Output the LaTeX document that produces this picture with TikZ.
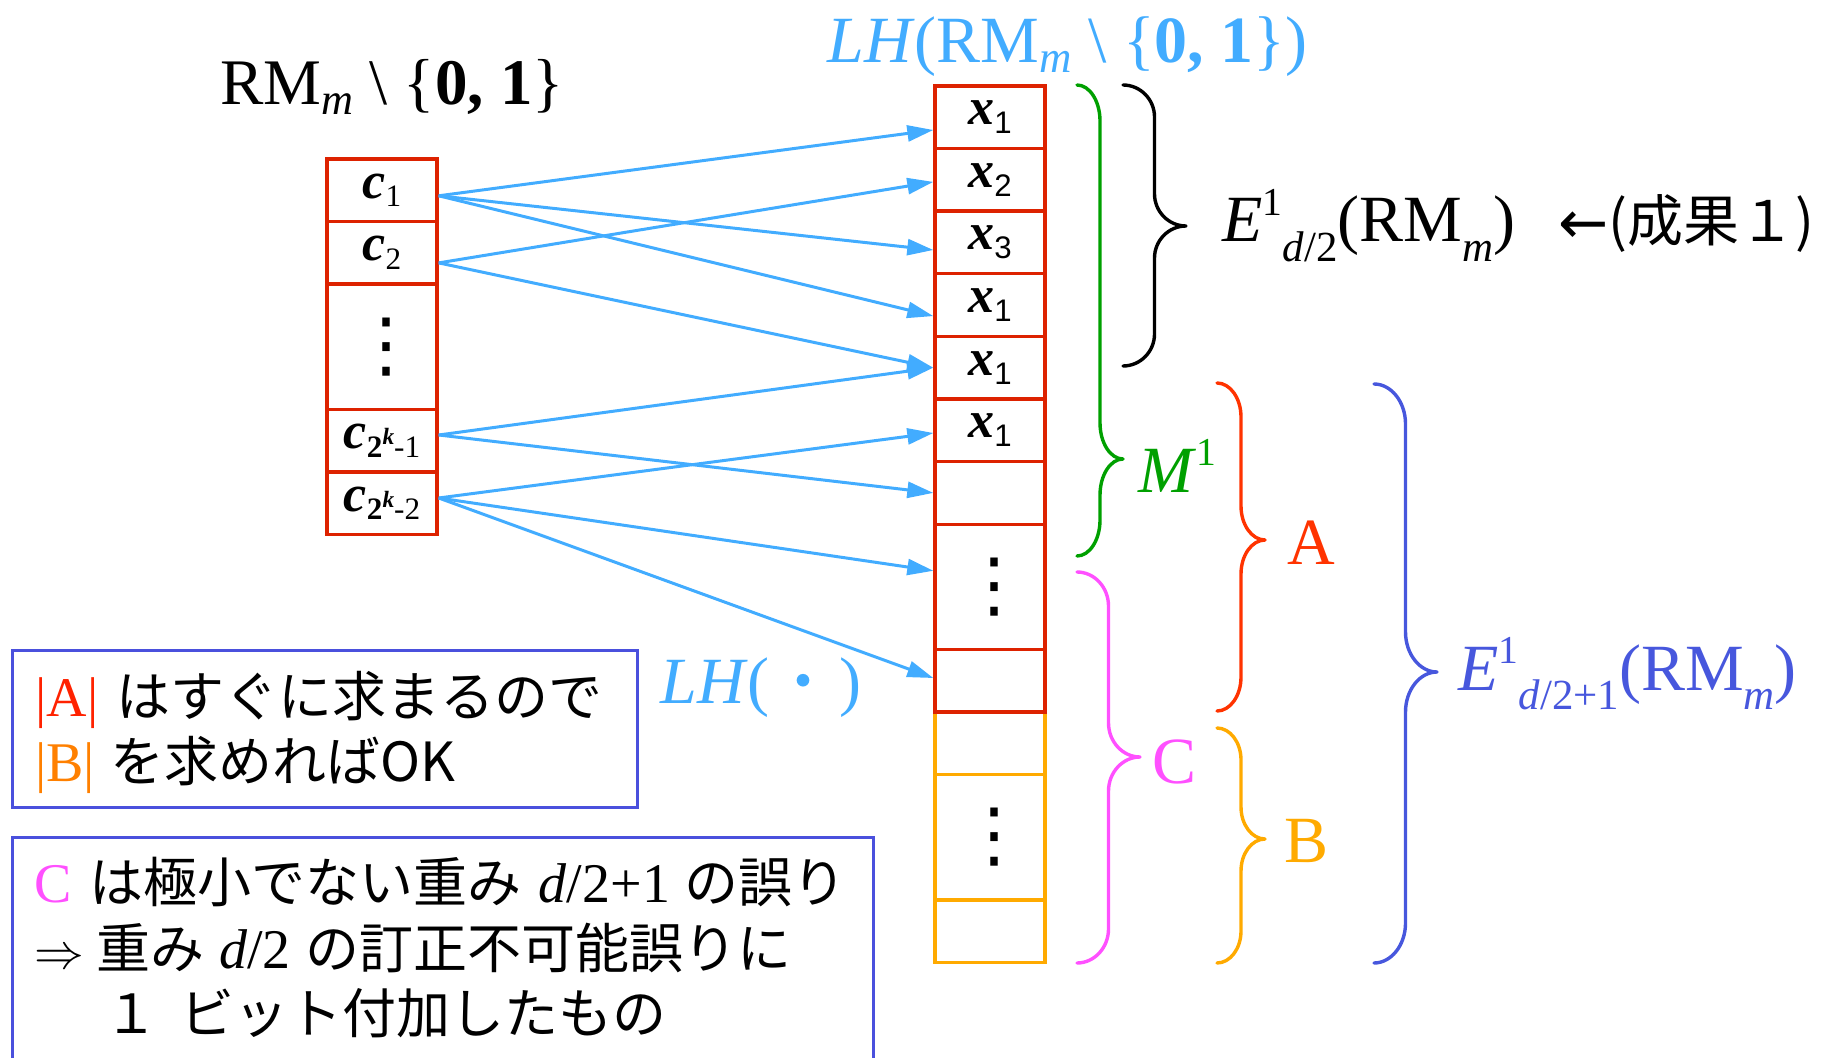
\documentclass[tikz,border=0pt]{standalone}
\usepackage{amsmath}
\usepackage{fontspec}
\setmainfont{Liberation Serif}
\setsansfont{Liberation Sans}
\newfontfamily\cjk{Noto Sans CJK JP}
\newfontfamily\djv{DejaVu Sans}
\usetikzlibrary{arrows.meta,calc}
\definecolor{lblue}{HTML}{42ACFF}
\definecolor{cellred}{HTML}{DD2200}
\definecolor{cellorange}{HTML}{FFAA00}
\definecolor{grn}{HTML}{00A000}
\definecolor{bred}{HTML}{FF3300}
\definecolor{mag}{HTML}{FF50FF}
\definecolor{borg}{HTML}{FFAA00}
\definecolor{pblue}{HTML}{4757DD}
\definecolor{ared}{HTML}{FF2200}
\definecolor{aorg}{HTML}{FF8000}
\definecolor{boxblue}{HTML}{4A50DD}
\makeatletter
\newcommand\shft[3]{\raisebox{#1}{\fontsize{\fpeval{#2*\f@size}}{\fpeval{#2*\f@size}}\selectfont #3}}
\makeatother
\newcommand\dn[1]{\shft{-0.14em}{0.68}{#1}}
\newcommand\dnn[1]{\shft{-0.3em}{0.65}{#1}}
\newcommand\upp[1]{\shft{0.4em}{0.6}{#1}}
\newcommand\cs[1]{\shft{-0.17em}{0.6}{#1}}
\newcommand\ks[1]{\shft{0.4em}{0.75}{#1}}
\newcommand\jp[1]{{\cjk\fontsize{27}{32}\selectfont #1}}
\newcommand\brc[7]{%
 \pgfmathsetmacro\bxs{(#2+#3)/2}%
 \pgfmathsetmacro\bwd{(#3-#2)/2}%
 \draw[bracesty,#1] (#2,#4) .. controls ({#2+0.55*\bwd},#4) and (\bxs,{#4+0.45*#7}) .. (\bxs,{#4+#7})
   -- (\bxs,{#5-#7}) .. controls (\bxs,{#5-0.45*#7}) and ({#3-0.55*\bwd},#5) .. (#3,#5)
   .. controls ({#3-0.55*\bwd},#5) and (\bxs,{#5+0.45*#7}) .. (\bxs,{#5+#7})
   -- (\bxs,{#6-#7}) .. controls (\bxs,{#6-0.45*#7}) and ({#2+0.55*\bwd},#6) .. (#2,#6);
}
\begin{document}
\begin{tikzpicture}[x=0.5pt,y=-0.5pt,
  cell/.style={draw=cellred, line width=1.7pt, minimum width=55pt, minimum height=31.3pt, inner sep=0pt, font=\fontsize{26}{30}\selectfont},
  dcell/.style={cell, minimum height=62.6pt},
  ocell/.style={cell, draw=cellorange},
  odcell/.style={dcell, draw=cellorange},
  arr/.style={draw=lblue, line width=1.5pt, -{Triangle[length=13pt,width=8pt]}},
  bracesty/.style={line width=1.7pt, line join=round, line cap=round},
  lbl/.style={anchor=base west, inner sep=0pt, font=\fontsize{33}{38}\selectfont},
  ttl/.style={anchor=base west, inner sep=0pt, font=\fontsize{33}{38}\selectfont},
  btxt/.style={anchor=base west, inner sep=0pt, font=\fontsize{28}{32}\selectfont},
  boxsty/.style={draw=boxblue, line width=1.5pt, inner sep=0pt},
  dots/.style={font=\djv\fontsize{36}{36}\selectfont}
]
\useasboundingbox (0,0) rectangle (1834,1058);
\clip (0,0) rectangle (1834,1058);

% titles
\node[ttl, font=\fontsize{32.5}{38}\selectfont] (title) at (220,105) {RM\dn{\textit{m}} \textbackslash\ \{\textbf{0, 1}\}};
\node[ttl, text=lblue] (lhtop) at (827,63) {\textit{LH}(RM\dn{\textit{m}} \textbackslash\ \{\textbf{0, 1}\})};
\node[ttl, text=lblue] (lhdot) at (660,703) {\textit{LH}(\hspace{2pt}{\cjk\fontsize{30}{34}\selectfont ・}\hspace{3pt})};

% left column
\node[cell] (c1) at (382,190.3) {\textbf{\textit{c}}\cs{1}};
\node[cell] (c2) at (382,252.9) {\textbf{\textit{c}}\cs{2}};
\node[dcell] (cd) at (382,346.8) {};
\node[dots] (cdd) at (386,346.8) {⋮};
\node[cell] (c3) at (382,440.7) {\textbf{\textit{c}}\cs{\textbf{2}\ks{\textbf{\textit{k}}}-1}};
\node[cell] (c4) at (382,503.3) {\textbf{\textit{c}}\cs{\textbf{2}\ks{\textbf{\textit{k}}}-2}};

% right column (orange part first)
\node[ocell] (o1) at (990,743.3) {};
\node[odcell] (o2) at (990,837.2) {};
\node[dots] (o2d) at (994,837.2) {⋮};
\node[ocell] (o3) at (990,931.1) {};
\node[cell] (r1) at (990,117.3) {\textbf{\textit{x}}\cs{\sffamily 1}};
\node[cell] (r2) at (990,179.9) {\textbf{\textit{x}}\cs{\sffamily 2}};
\node[cell] (r3) at (990,242.5) {\textbf{\textit{x}}\cs{\sffamily 3}};
\node[cell] (r4) at (990,305.1) {\textbf{\textit{x}}\cs{\sffamily 1}};
\node[cell] (r5) at (990,367.7) {\textbf{\textit{x}}\cs{\sffamily 1}};
\node[cell] (r6) at (990,430.3) {\textbf{\textit{x}}\cs{\sffamily 1}};
\node[cell] (r7) at (990,492.9) {};
\node[dcell] (r8) at (990,586.8) {};
\node[dots] (r8d) at (994,586.8) {⋮};
\node[cell] (r9) at (990,680.7) {};

% arrows
\draw[arr] ($(c1.east)+(0,5.5)$) -- ($(r1.west)+(0,12.7)$);
\draw[arr] ($(c2.east)+(0,10)$) -- ($(r2.west)+(0,2)$);
\draw[arr] ($(c1.east)+(0,5.5)$) -- ($(r3.west)+(0,7.5)$);
\draw[arr] ($(c1.east)+(0,5.5)$) -- ($(r4.west)+(0,11)$);
\draw[arr] ($(c2.east)+(0,10)$) -- (r5.west);
\draw[arr] ($(c3.east)+(0,-5.7)$) -- (r5.west);
\draw[arr] ($(c4.east)+(0,-5.3)$) -- ($(r6.west)+(0,2.7)$);
\draw[arr] ($(c3.east)+(0,-5.7)$) -- (r7.west);
\draw[arr] ($(c4.east)+(0,-5.3)$) -- ($(r8.west)+(0,-16)$);
\draw[arr] ($(c4.east)+(0,-5.3)$) -- ($(r9.west)+(0,-2.7)$);

% braces
\brc{grn}{1077}{1123}{85}{459}{556}{36}
\brc{black}{1123}{1186}{85}{226}{366}{32}
\brc{bred}{1217}{1265}{383}{540}{711}{34}
\brc{mag}{1077}{1140}{572}{757}{963}{34}
\brc{borg}{1217}{1265}{728}{839}{963}{32}
\brc{pblue}{1374}{1437}{384}{672}{963}{40}

% brace labels
\node[lbl] (e1) at (1222,242) {\textit{E}\upp{1}\dnn{\textit{d}/2}(RM\dnn{\textit{m}})};
\node[lbl] (res1) at (1558,242) {\raisebox{-1pt}{\djv\fontsize{30}{30}\selectfont ←}{\cjk\fontsize{28}{34}\selectfont (成果１)}};
\node[lbl, text=grn] (m1) at (1138,492) {\textit{M}\upp{1}};
\node[lbl, text=bred] (la) at (1287,564) {A};
\node[lbl, text=mag] (lc) at (1152,783) {C};
\node[lbl, text=borg] (lb) at (1284,862) {B};
\node[lbl, text=pblue] (e2) at (1458,690) {\textit{E}\upp{1}\dnn{\textit{d}/2+1}(RM\dnn{\textit{m}})};

% boxes
\node[boxsty, minimum width=312.5pt, minimum height=78.5pt] (box1) at (324.5,728.5) {};
\node[boxsty, minimum width=430.5pt, minimum height=121.5pt] (box2) at (442.5,958.5) {};

\node[btxt] (b1l1) at (35,716) {{\color{ared}|A|}\hspace{9pt}\jp{はすぐに求まるので}};
\node[btxt] (b1l2) at (35,781) {{\color{aorg}|B|}\hspace{7.5pt}\jp{を求めればOK}};
\node[btxt] (b2l1) at (34,902) {{\color{mag}C}\hspace{9pt}\jp{は極小でない重み}\hspace{8.5pt}\textit{d}/2+1\hspace{7pt}\jp{の誤り}};
\node[btxt] (b2l2) at (34,968) {$\Rightarrow$\hspace{6pt}\jp{重み}\hspace{7.5pt}\textit{d}/2\hspace{7.5pt}\jp{の訂正不可能誤りに}};
\node[btxt] (b2l3) at (104,1033) {\jp{１}\hspace{11pt}\jp{ビット付加したもの}};
\end{tikzpicture}
\end{document}
